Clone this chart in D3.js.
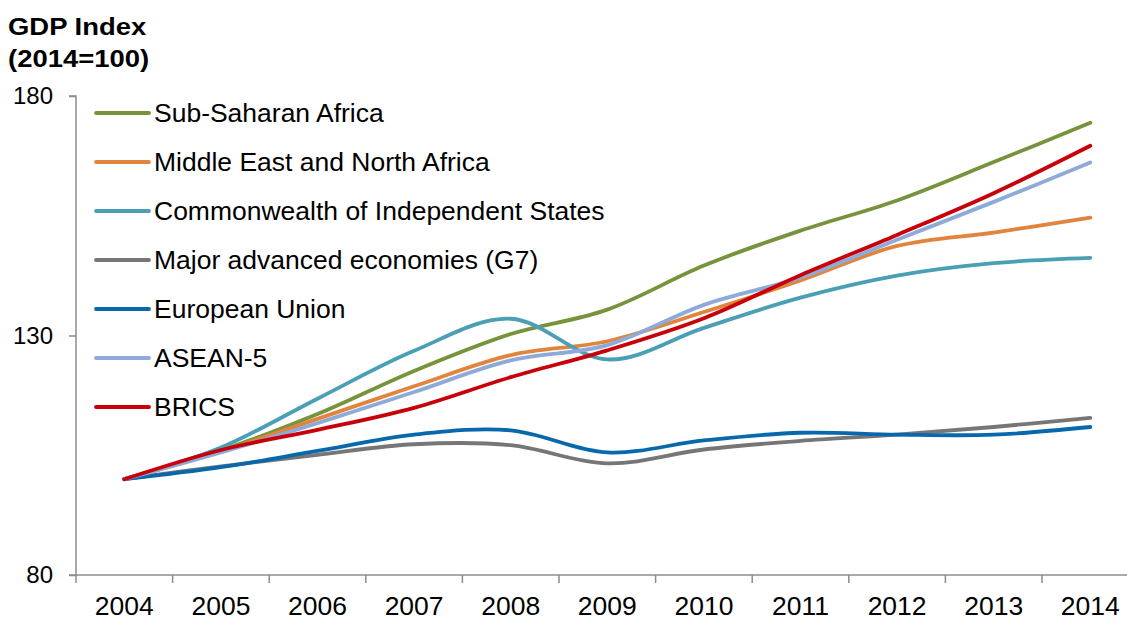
<!DOCTYPE html>
<html>
<head>
<meta charset="utf-8">
<script src="https://cdn.jsdelivr.net/npm/d3@7"></script>
<style>
    body { margin: 0; background: #fff; }
    svg { font-family: "Liberation Sans", Arial, sans-serif; }
</style>
</head>
<body>
<svg id="chart-svg" width="1127" height="617"></svg>
<script>
// chart values
const years = ["2004", "2005", "2006", "2007", "2008", "2009", "2010", "2011", "2012", "2013", "2014"];
const yTicks = [80, 130, 180];

const seriesNames = [
    "Sub-Saharan Africa",
    "Middle East and North Africa",
    "Commonwealth of Independent States",
    "Major advanced economies (G7)",
    "European Union",
    "ASEAN-5",
    "BRICS"
];
const seriesColors = ["#77933c", "#e0843e", "#4a9fb5", "#767676", "#0868ac", "#8eaad8", "#c8000a"];

const subSaharan = [100, 106.0, 113.6, 122.6, 130.3, 135.4, 144.6, 151.9, 158.2, 166.2, 174.4];
const mena = [100, 105.8, 112.6, 119.4, 125.9, 128.8, 134.9, 141.5, 148.7, 151.5, 154.6];
const cis = [100, 106.6, 116.8, 126.8, 133.5, 125.0, 131.6, 137.9, 142.5, 145.1, 146.2];
const g7 = [100, 102.7, 105.1, 107.3, 107.1, 103.3, 106.2, 108.0, 109.3, 110.9, 112.8];
const eu = [100, 102.5, 105.9, 109.3, 110.2, 105.6, 108.1, 109.7, 109.3, 109.3, 110.9];
const asean5 = [100, 105.6, 111.7, 118.2, 124.8, 128.0, 136.4, 142.1, 150.0, 157.9, 166.1];
const brics = [100, 106.1, 110.3, 114.9, 121.3, 126.9, 133.6, 142.6, 151.0, 159.7, 169.6];

const seriesValues = [subSaharan, mena, cis, g7, eu, asean5, brics];

const width = 1127;
const height = 617;
const margin = {left: 76, top: 96, bottom: 575};

// the original text is a little wider than Arial at the same height
const stretch = 1.06;

const svg = d3.select("#chart-svg");

// one band per year, the last one runs past the right edge as in the original
const x = d3.scaleBand()
    .domain(years)
    .range([margin.left, margin.left + 96.6 * years.length]);

const y = d3.scaleLinear()
    .domain([80, 180])
    .range([margin.bottom, margin.top]);

const axisColor = "#8c8c8c";

// y axis
const yAxis = svg.append("g")
    .attr("transform", `translate(${margin.left},0)`)
    .call(d3.axisLeft(y).tickValues(yTicks).tickSize(7).tickFormat(d3.format("d")));

yAxis.select(".domain")
    .attr("stroke", axisColor)
    .attr("stroke-width", 1.5)
    .attr("d", `M-7,${y(180)}H0V${y(80)}`);

yAxis.selectAll(".tick line").attr("stroke", axisColor).attr("stroke-width", 1.5);
yAxis.selectAll(".tick text")
    .attr("x", -23)
    .attr("fill", "#000")
    .style("font-size", "24px")
    .style("font-family", "Liberation Sans, Arial, sans-serif");

// x axis, ticks between categories
const xAxis = svg.append("g")
    .attr("transform", `translate(0,${margin.bottom})`);

xAxis.append("line")
    .attr("x1", margin.left - 7)
    .attr("x2", width)
    .attr("stroke", axisColor)
    .attr("stroke-width", 1.5);

xAxis.selectAll(".xtick")
    .data(years)
    .join("line")
    .attr("class", "xtick")
    .attr("x1", d => x(d))
    .attr("x2", d => x(d))
    .attr("y1", 0)
    .attr("y2", 8)
    .attr("stroke", axisColor)
    .attr("stroke-width", 1.5);

xAxis.selectAll(".xlabel")
    .data(years)
    .join("text")
    .attr("class", "xlabel")
    .attr("transform", d => `translate(${x(d) + x.bandwidth() / 2},40) scale(${stretch},1)`)
    .attr("text-anchor", "middle")
    .style("font-size", "25px")
    .text(d => d);

// title
const title = svg.append("g")
    .attr("transform", "translate(8,0) scale(1.12,1)")
    .style("font-size", "24.5px")
    .style("font-weight", "bold");

title.append("text")
    .attr("y", 35)
    .text("GDP Index");

title.append("text")
    .attr("y", 67)
    .text("(2014=100)");

// smoothed lines like the spreadsheet chart
const line = d3.line()
    .x((d, i) => x(years[i]) + x.bandwidth() / 2)
    .y(d => y(d))
    .curve(d3.curveCatmullRom.alpha(0));

svg.append("g")
    .selectAll("path")
    .data(seriesValues)
    .join("path")
    .attr("d", line)
    .attr("fill", "none")
    .attr("stroke", (d, i) => seriesColors[i])
    .attr("stroke-width", 3.8)
    .attr("stroke-linecap", "round")
    .attr("stroke-linejoin", "round");

// legend
const legend = svg.append("g")
    .attr("transform", "translate(96,113)");

const legendRows = legend.selectAll("g")
    .data(seriesNames)
    .join("g")
    .attr("transform", (d, i) => `translate(0,${i * 49})`);

legendRows.append("line")
    .attr("x1", 0)
    .attr("x2", 53)
    .attr("stroke", (d, i) => seriesColors[i])
    .attr("stroke-width", 3.8)
    .attr("stroke-linecap", "round");

legendRows.append("text")
    .attr("transform", `translate(58,9) scale(${stretch},1)`)
    .style("font-size", "25px")
    .text(d => d);
</script>
</body>
</html>
